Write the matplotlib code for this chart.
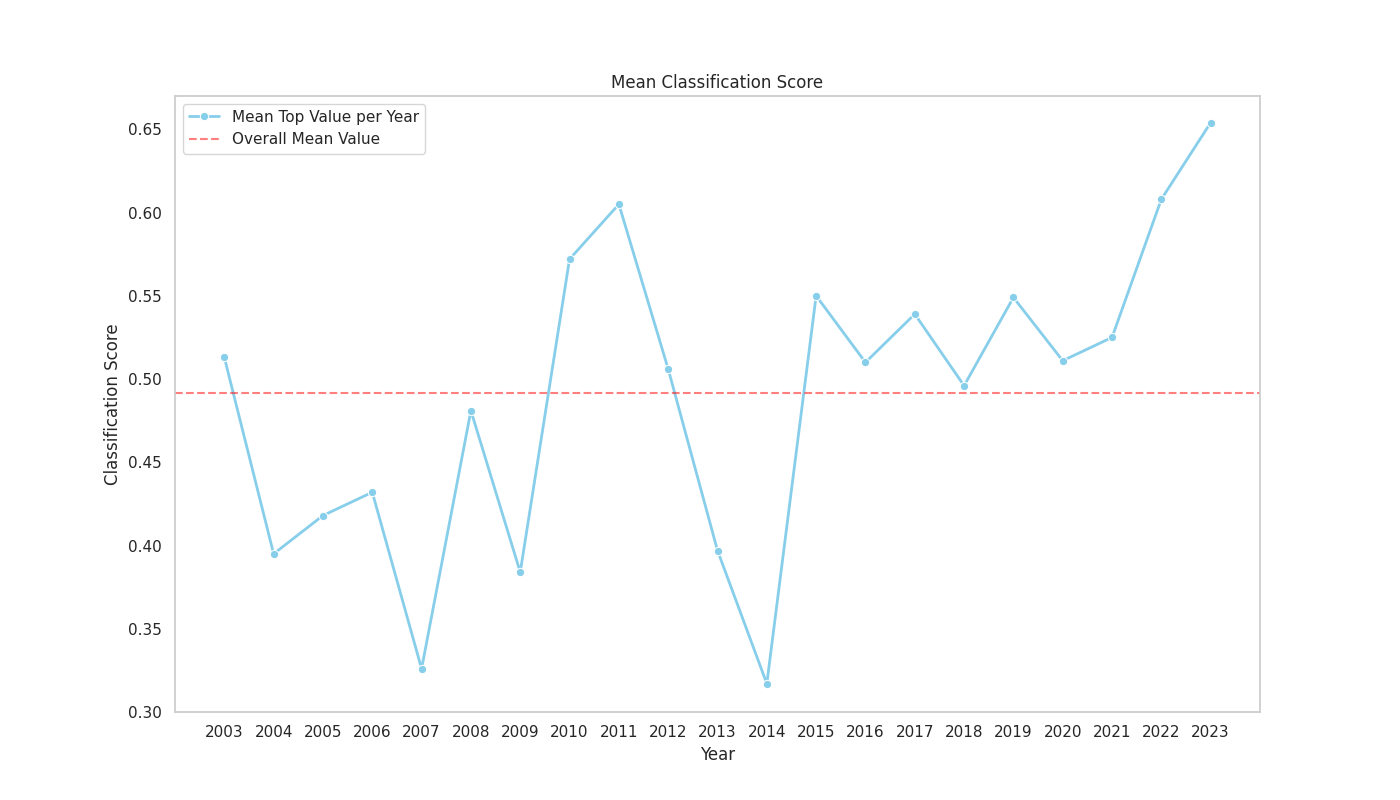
import numpy as np
import matplotlib.pyplot as plt
import seaborn as sns

years = list(range(2003, 2024))
mean_scores = [0.513, 0.395, 0.418, 0.432, 0.326, 0.481, 0.384, 0.572, 0.605,
               0.506, 0.397, 0.317, 0.550, 0.510, 0.539, 0.496, 0.549, 0.511,
               0.525, 0.608, 0.654]
overall_mean = 0.4915

sns.set_theme(style="white")
plt.rcParams["axes.edgecolor"] = "#cccccc"

fig, ax = plt.subplots(figsize=(14, 8), dpi=100)
sns.lineplot(x=years, y=mean_scores, marker="o", color="skyblue", linewidth=2,
             label="Mean Top Value per Year", ax=ax)
ax.axhline(overall_mean, color="red", linestyle="--", alpha=0.5, label="Overall Mean Value")

ax.set_xticks(years)
ax.set_ylim(0.30, 0.67)
ax.set_title("Mean Classification Score")
ax.set_xlabel("Year")
ax.set_ylabel("Classification Score")
ax.legend(loc="upper left")

fig.savefig("out.png")
